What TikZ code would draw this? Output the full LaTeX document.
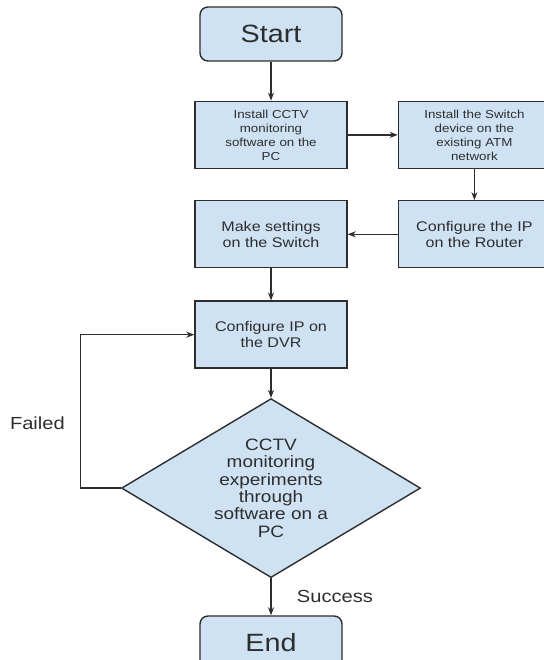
\documentclass[tikz,border=0pt]{standalone}
\usepackage{fontspec}
\setmainfont{Liberation Sans}[FakeStretch=1.15]
\usepackage{tikz}
\usetikzlibrary{shapes.geometric, arrows.meta, positioning}
\definecolor{boxblue}{RGB}{207,226,243}
\definecolor{inkgray}{RGB}{45,45,45}
\newcommand{\smallboxfont}{\fontsize{11.6}{14}\selectfont}
\newcommand{\bigboxfont}{\fontsize{14}{15.6}\selectfont}
\tikzstyle{terminal} = [rectangle, rounded corners=8pt, minimum width=142pt, minimum height=54pt, text centered, draw=inkgray, line width=1.4pt, fill=boxblue, text=inkgray, font=\fontsize{25}{30}\selectfont]
\tikzstyle{process} = [rectangle, minimum width=152pt, minimum height=67pt, inner sep=0pt, align=center, draw=inkgray, line width=1.4pt, fill=boxblue, text=inkgray]
\tikzstyle{decision} = [diamond, minimum width=299pt, minimum height=179pt, aspect=1.67, inner sep=0pt, align=center, draw=inkgray, line width=1.4pt, fill=boxblue, text=inkgray, font=\fontsize{16.5}{17.3}\selectfont]
\tikzstyle{arrow} = [line width=1.3pt, -{Stealth[length=8pt, width=6pt]}, draw=inkgray]
\tikzstyle{note} = [text=inkgray, font=\fontsize{17.5}{20}\selectfont]

\begin{document}
\begin{tikzpicture}[node distance=31pt]
        \useasboundingbox (0,0) rectangle (543pt,660pt);

        \node (start) [terminal] at (271pt,626pt) {Start};
        \node (install) [process, below=39pt of start, font=\smallboxfont] {Install CCTV\\monitoring\\software on the\\PC};
        \node (switch) [process, right=50pt of install, font=\smallboxfont] {Install the Switch\\device on the\\existing ATM\\network};
        \node (router) [process, below=of switch, font=\bigboxfont] {Configure the IP\\on the Router};
        \node (settings) [process, below=of install, font=\bigboxfont] {Make settings\\on the Switch};
        \node (dvr) [process, below=32pt of settings, font=\bigboxfont] {Configure IP on\\the DVR};
        \node (test) [decision, below=29pt of dvr] {CCTV\\monitoring\\experiments\\through\\software on a\\PC};
        \node (end) [terminal, below=37pt of test] {End};

        \draw [arrow] (start) -- (install);
        \draw [arrow] (install) -- (switch);
        \draw [arrow] (switch) -- (router);
        \draw [arrow] (router) -- (settings);
        \draw [arrow] (settings) -- (dvr);
        \draw [arrow] (dvr) -- (test);
        \draw [arrow] (test.west) -- ++(-40pt,0) |- node[note, pos=0.21, left=12pt]{Failed} (dvr.west);
        \draw [arrow] (test) -- node[note, right=22pt]{Success} (end);

        \end{tikzpicture}
\end{document}
